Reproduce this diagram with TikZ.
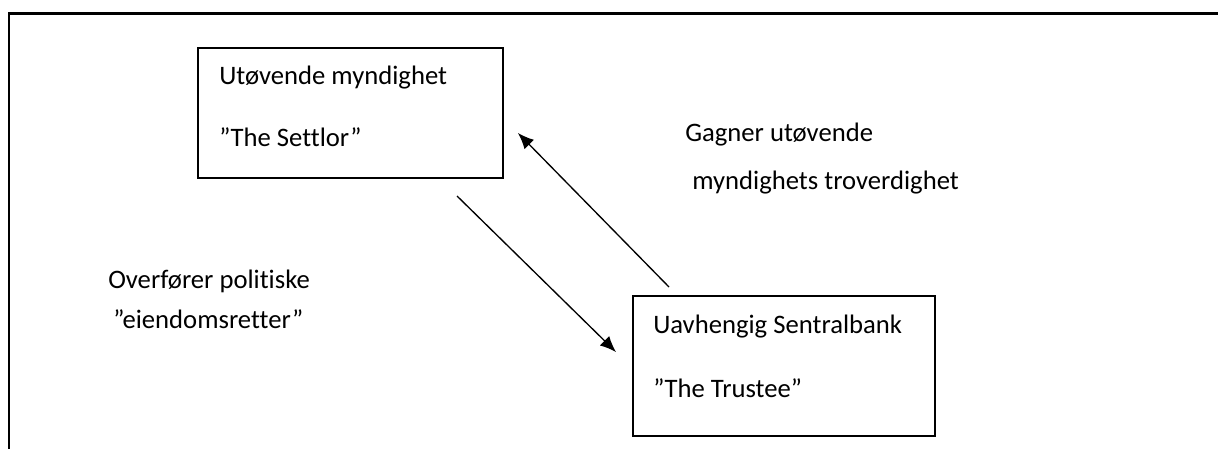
\documentclass[tikz,border=0pt]{standalone}
\usepackage{fontspec}
\setmainfont[Ligatures=NoCommon]{Carlito}
\usetikzlibrary{arrows.meta}
\begin{document}
\begin{tikzpicture}[x=0.75pt,y=-0.75pt,
  frameline/.style={line width=1.6pt},
  actorbox/.style={draw,line width=1pt},
  flow/.style={line width=1pt,-{Latex[length=12pt,width=10pt]}},
  lbl/.style={anchor=base west,inner sep=0pt,font=\fontsize{20}{24}\selectfont}]
\useasboundingbox (0,0) rectangle (1218,449);
% open outer frame: top and left edges only
\draw[frameline] (1218,13.5) -- (9,13.5) -- (9,449);
% the two parties
\draw[actorbox] (198,48) rectangle (503,178);
\node[lbl] (s1) at (219,85) {Utøvende myndighet};
\node[lbl] (s2) at (219,147) {”The Settlor”};
\draw[actorbox] (633,296) rectangle (935,436);
\node[lbl] (t1) at (653,333) {Uavhengig Sentralbank};
\node[lbl] (t2) at (653,397) {”The Trustee”};
% flows between them
\coordinate (a1s) at (457,196);
\coordinate (a1e) at (616,352);
\coordinate (a2s) at (669,287);
\coordinate (a2e) at (518,133);
\draw[flow] (a1s) -- (a1e);
\draw[flow] (a2s) -- (a2e);
% flow labels
\node[lbl] (l1) at (108,288) {Overfører politiske};
\node[lbl] (l2) at (113,328) {”eiendomsretter”};
\node[lbl] (l3) at (685,142) {Gagner utøvende};
\node[lbl] (l4) at (692,190) {myndighets troverdighet};
\end{tikzpicture}
\end{document}
